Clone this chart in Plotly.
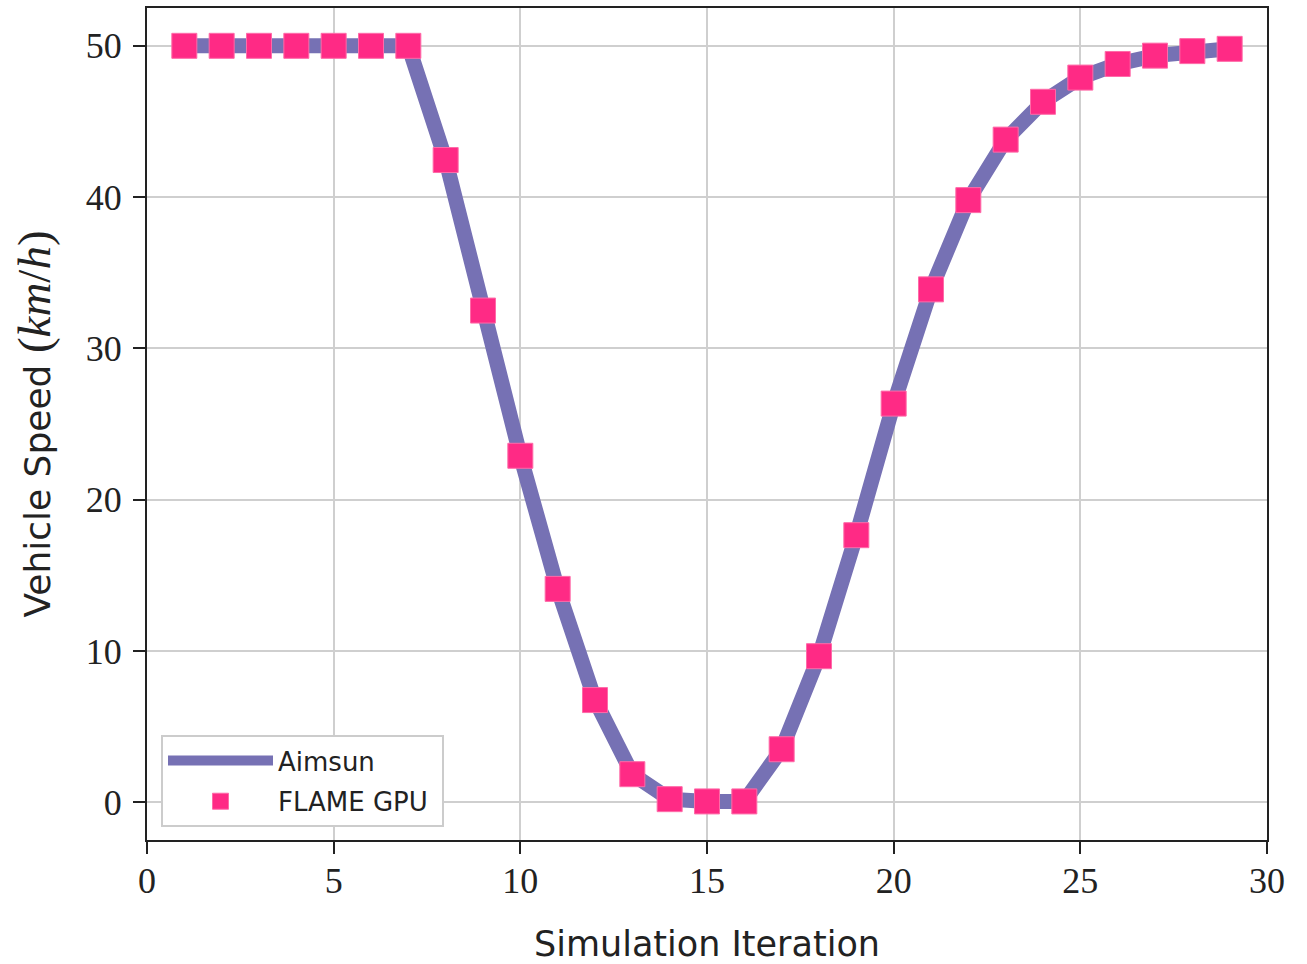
import plotly.graph_objects as go

iterations = list(range(1, 30))
speed_aimsun = [50, 50, 50, 50, 50, 50, 50, 42.45, 32.5, 22.9, 14.1, 6.75, 1.85, 0.2, 0.05, 0.05,
                3.5, 9.65, 17.65, 26.35, 33.9, 39.8, 43.8, 46.3, 47.9, 48.8, 49.35, 49.65, 49.8]
speed_flame = list(speed_aimsun)

x_ticks = [0, 5, 10, 15, 20, 25, 30]
y_ticks = [0, 10, 20, 30, 40, 50]

LINE_C = "#7671b4"
MARK_C = "#ff2a85"
SERIF = "Liberation Serif"
SANS = "DejaVu Sans"

fig = go.Figure()
fig.add_trace(go.Scatter(
    x=iterations, y=speed_aimsun, mode="lines", name="Aimsun&nbsp;&nbsp;&nbsp;", legendgroup="a",
    line=dict(color=LINE_C, width=15),
))
fig.add_trace(go.Scatter(
    x=iterations, y=speed_flame, mode="markers", name="FLAME GPU&nbsp;", legendgroup="b",
    marker=dict(symbol="square", size=25, color=MARK_C, line=dict(color="#ff6aa8", width=1)),
))

axis_common = dict(
    showgrid=True, gridcolor="#cfcfcf", gridwidth=2,
    showline=True, linecolor="#222222", linewidth=2, mirror=True,
    ticks="outside", ticklen=12, tickwidth=2, tickcolor="#222222",
    tickfont=dict(family=SERIF, size=36, color="#222222"),
    zeroline=False, automargin=False,
)

fig.update_layout(
    width=1307, height=964,
    margin=dict(l=147, r=40, t=8, b=124),
    paper_bgcolor="white", plot_bgcolor="white",
    xaxis=dict(range=[0, 30], tickvals=x_ticks, ticktext=[str(v) for v in x_ticks],
               ticklabelstandoff=-4,
               title=dict(text="Simulation Iteration", font=dict(family=SANS, size=35, color="#222222"), standoff=36),
               **axis_common),
    yaxis=dict(range=[-2.5, 52.5], tickvals=y_ticks, ticktext=[str(v) for v in y_ticks],
               ticklabelstandoff=4,
               title=dict(text="Vehicle Speed <span style='font-family:Liberation Serif;font-size:47px'>(<i>km</i>/<i>h</i>)</span>",
                          font=dict(family=SANS, size=36, color="#222222"), standoff=24),
               **axis_common),
    legend=dict(x=0.0125, y=0.0156, xanchor="left", yanchor="bottom",
                bgcolor="white", bordercolor="#cccccc", borderwidth=2,
                font=dict(family=SANS, size=26, color="#222222"),
                itemwidth=105, traceorder="grouped", tracegroupgap=4),
    showlegend=True,
)

fig.write_html("out.html")
